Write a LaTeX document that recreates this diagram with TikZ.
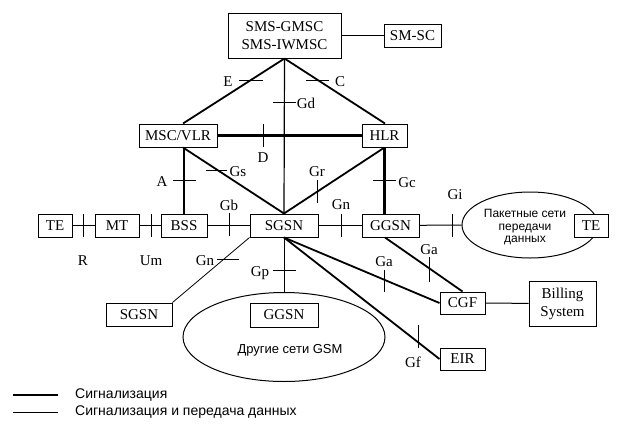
\documentclass[tikz,border=0pt]{standalone}
\usepackage{fontspec}
\setmainfont{Liberation Serif}
\newfontfamily\rufont{Liberation Sans}
\usetikzlibrary{shapes.geometric,calc}
\tikzset{
  box/.style={draw, line width=1pt, inner sep=0pt, minimum height=23pt, align=center},
  lbl/.style={inner sep=0pt, font=\fontsize{15}{17}\selectfont},
  sig/.style={line width=2.5pt},
  med/.style={line width=1.8pt},
  dat/.style={line width=1pt},
  tick/.style={line width=1pt},
  oval/.style={draw, ellipse, line width=1pt, inner sep=0pt},
  rutext/.style={inner sep=0pt, align=center, font=\rufont\fontsize{13}{15}\selectfont}
}
\begin{document}
\begin{tikzpicture}[x=1pt,y=-1pt]
\useasboundingbox (0,0) rectangle (632,434);
\begin{scope}[every node/.append style={font=\fontsize{15}{18}\selectfont}]
% nodes
\node[box, minimum width=113pt, minimum height=45pt] (sms) at (284.5,35.5) {SMS-GMSC\\SMS-IWMSC};
\node[box, minimum width=57pt] (smsc) at (412.5,35.5) {SM-SC};
\node[box, minimum width=78pt] (msc) at (178,135.5) {MSC/VLR};
\node[box, minimum width=45pt] (hlr) at (384.5,135.5) {HLR};
\node[box, minimum width=34pt] (te1) at (55,225.5) {TE};
\node[box, minimum width=44pt] (mt) at (117,225.5) {MT};
\node[box, minimum width=46pt] (bss) at (184,225.5) {BSS};
\node[box, minimum width=68pt] (sgsn) at (284,225.5) {SGSN};
\node[box, minimum width=57pt] (ggsn) at (390.5,225.5) {GGSN};
\node[oval, minimum width=136pt, minimum height=66pt] (pdn) at (530,225) {};
\node[rutext, font=\rufont\fontsize{12}{12.5}\selectfont] (pdntext) at (525,227.5) {Пакетные сети\\передачи\\данных};
\node[box, minimum width=34pt, fill=white] (te2) at (591,225.5) {TE};
\node[box, minimum width=45pt, minimum height=22pt] (cgf) at (462.5,303) {CGF};
\node[box, minimum width=67pt, minimum height=45pt] (bill) at (562.5,303.5) {Billing\\System};
\node[box, minimum width=45pt, minimum height=22pt] (eir) at (462.5,359) {EIR};
\node[box, minimum width=66pt] (sgsn2) at (139,314.5) {SGSN};
\node[oval, minimum width=202pt, minimum height=89pt] (gsm) at (284,337) {};
\node[box, minimum width=68pt, minimum height=24pt] (ggsn2) at (284,315) {GGSN};
\node[rutext] (gsmtext) at (290,350) {Другие сети GSM};
\end{scope}
% connectors
\draw[dat] (sms) -- (smsc);
\draw[med] (sms.south) -- ($(msc.north)+(5,0)$);
\draw[med] (sms.south) -- ($(hlr.north)+(0.5,0)$);
\draw[line width=1.2pt] (sms.south) -- (sgsn.north);
\draw[sig] (msc.east) -- (hlr.west);
\draw[sig] ($(msc.south)+(6,0)$) -- (bss.north);
\draw[med] ($(msc.south)+(5,0)$) -- (sgsn.north);
\draw[med] (hlr.south) -- (sgsn.north);
\draw[sig] (hlr.south) -- (hlr.south |- ggsn.north);
\draw[dat] (te1) -- (mt);
\draw[dat] (mt) -- (bss);
\draw[dat] (bss) -- (sgsn);
\draw[dat] (sgsn) -- (ggsn);
\draw[dat] (ggsn) -- (pdn.west);
\draw[med] (sgsn.south) -- (cgf.west);
\draw[med] ($(ggsn.south)+(-5.5,0)$) -- (cgf.north);
\draw[med] (sgsn.south) -- (eir.west);
\draw[dat] (sgsn.south) -- (gsm.north);
\draw[line width=0.8pt] (sgsn.south west) -- (sgsn2.north east);
\draw[dat] (cgf) -- (bill);
% ticks
\draw[tick] (83,214) -- (83,237);
\draw[tick] (151,214) -- (151,237);
\draw[tick] (229,213) -- (229,236);
\draw[tick] (341,214) -- (341,237);
\draw[tick] (452,214) -- (452,237);
\draw[tick] (263,124) -- (263,147);
\draw[tick] (239,80) -- (263,80);
\draw[tick] (306,80) -- (329,80);
\draw[tick] (273,102) -- (296,102);
\draw[tick] (206,170) -- (227,170);
\draw[tick] (173,180) -- (196,180);
\draw[tick] (317,180) -- (317,203);
\draw[tick] (373,180) -- (396,180);
\draw[tick] (429,257) -- (429,282);
\draw[tick] (384,270) -- (384,292);
\draw[tick] (418,325) -- (418,348);
\draw[tick] (273,270) -- (296,270);
\draw[tick] (217,259) -- (239,259);
% labels
\node[lbl] (lE) at (228,82) {E};
\node[lbl] (lC) at (340,82) {C};
\node[lbl] (lGd) at (306,103) {Gd};
\node[lbl] (lD) at (263,158) {D};
\node[lbl] (lGs) at (238,172) {Gs};
\node[lbl] (lA) at (162,182) {A};
\node[lbl] (lGr) at (317,172) {Gr};
\node[lbl] (lGc) at (407,183) {Gc};
\node[lbl] (lGb) at (229,205) {Gb};
\node[lbl] (lGn) at (341,205) {Gn};
\node[lbl] (lGi) at (455,195) {Gi};
\node[lbl] (lR) at (83,261) {R};
\node[lbl] (lUm) at (151,261) {Um};
\node[lbl] (lGn2) at (205,261) {Gn};
\node[lbl] (lGp) at (260,273) {Gp};
\node[lbl] (lGa1) at (429,250) {Ga};
\node[lbl] (lGa2) at (384,262) {Ga};
\node[lbl] (lGf) at (413,362) {Gf};
% legend
\coordinate (l1a) at (13,395); \coordinate (l1b) at (58,395);
\coordinate (l2a) at (13,412); \coordinate (l2b) at (58,412);
\draw[sig] (l1a) -- (l1b);
\draw[dat] (l2a) -- (l2b);
\node[rutext, anchor=west, font=\rufont\fontsize{14}{16}\selectfont] (leg1) at (75,395) {Сигнализация};
\node[rutext, anchor=west, font=\rufont\fontsize{14}{16}\selectfont] (leg2) at (75,412) {Сигнализация и передача данных};
\end{tikzpicture}
\end{document}
